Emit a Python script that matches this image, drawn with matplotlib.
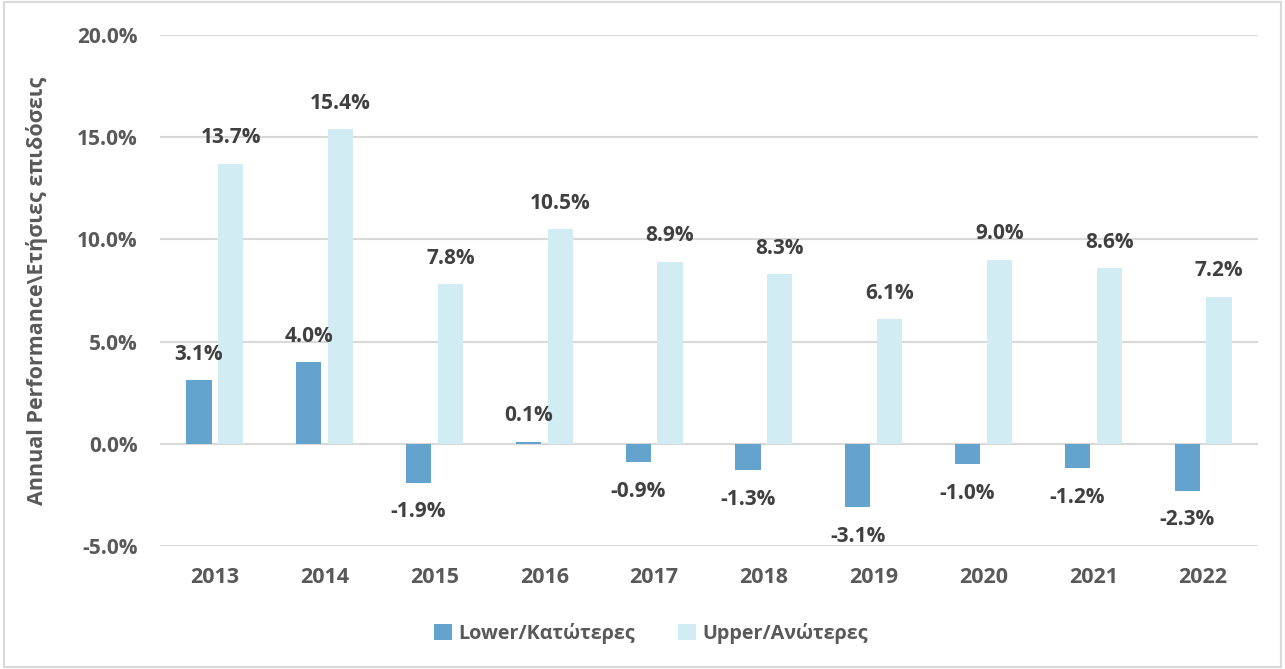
import numpy as np
import matplotlib.pyplot as plt
from matplotlib.patches import Rectangle

plt.rcParams['font.family'] = ['Open Sans', 'DejaVu Sans']
plt.rcParams['font.weight'] = 'bold'

years = ['2013', '2014', '2015', '2016', '2017', '2018', '2019', '2020', '2021', '2022']
lower = [3.1, 4.0, -1.9, 0.1, -0.9, -1.3, -3.1, -1.0, -1.2, -2.3]
upper = [13.7, 15.4, 7.8, 10.5, 8.9, 8.3, 6.1, 9.0, 8.6, 7.2]

c_lower = '#64A3CE'
c_upper = '#D2ECF4'
txt_dark = '#404040'
txt_gray = '#595959'

fig = plt.figure(figsize=(12.85, 6.69), dpi=100)
ax = fig.add_axes([160/1285, 1 - 546/669, (1258-160)/1285, (546-35)/669])

x = np.arange(len(years))
w = 0.23
off = 0.145
ax.bar(x - off, lower, w, color=c_lower, label='Lower/Κατώτερες', zorder=3)
ax.bar(x + off, upper, w, color=c_upper, label='Upper/Ανώτερες', zorder=3)

# data labels
for xi, v in zip(x, lower):
    dy = 26 if v >= 0 else -29
    ax.annotate(f'{v:.1f}%', (xi - off, v), xytext=(0, dy), textcoords='offset pixels',
                ha='center', va='center', fontsize=15, color=txt_dark, fontweight='bold')
for xi, v in zip(x, upper):
    ax.annotate(f'{v:.1f}%', (xi + off, v), xytext=(0, 26), textcoords='offset pixels',
                ha='center', va='center', fontsize=15, color=txt_dark, fontweight='bold')

ax.set_xlim(-0.5, len(years) - 0.5)
ax.set_ylim(-5, 20)
ax.set_yticks(np.arange(-5, 20.1, 5))
ax.set_yticklabels([f'{t:.1f}%' for t in np.arange(-5, 20.1, 5)])
ax.set_xticks(x)
ax.set_xticklabels(years)
ax.tick_params(axis='both', length=0, labelcolor=txt_gray)
ax.tick_params(axis='y', pad=16, labelsize=15)
ax.tick_params(axis='x', pad=15, labelsize=15.5)
ax.grid(axis='y', color='#D9D9D9', linewidth=1.5, zorder=0)
ax.set_axisbelow(True)
for s in ax.spines.values():
    s.set_visible(False)

ax.set_ylabel('Annual Performance\\Ετήσιες επιδόσεις', fontsize=15.5, color=txt_gray,
              fontweight='bold')
ax.yaxis.set_label_coords(-0.102, 0.5)

fig.legend(loc='center', bbox_to_anchor=(651/1285, 1 - 633/669), ncol=2, frameon=False,
           fontsize=14.2, labelcolor=txt_gray, handlelength=0.9, handleheight=0.9,
           handletextpad=0.3, columnspacing=2.2)

fig.patches.append(Rectangle((0.003, 0.003), 0.994, 0.994, transform=fig.transFigure,
                             fill=False, edgecolor='#D9D9D9', linewidth=1.5))

fig.savefig('out.png', dpi=100)
